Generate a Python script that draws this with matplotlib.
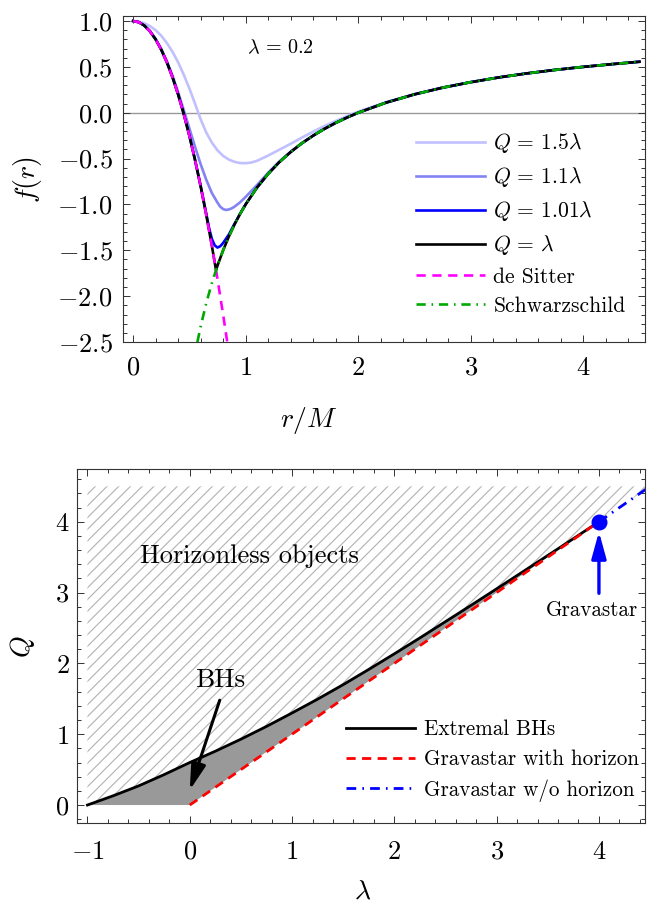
import numpy as np
import matplotlib
matplotlib.use("Agg")
from matplotlib import pyplot as plt
from matplotlib.ticker import MultipleLocator
from matplotlib.patches import Polygon

plt.rcParams['font.family'] = 'serif'
plt.rcParams['font.serif'] = ['cmr10', 'DejaVu Serif']
plt.rcParams['mathtext.fontset'] = 'cm'
plt.rcParams['axes.formatter.use_mathtext'] = True

# ---- top panel data: f(r) for lambda = 0.2 ----
r_ds = [0, 0.05, 0.1, 0.15, 0.2, 0.25, 0.3, 0.35, 0.4, 0.45, 0.5, 0.55, 0.6,
        0.65, 0.7, 0.7368, 0.75, 0.8, 0.8367]
f_ds = [1.0, 0.9875, 0.95, 0.8875, 0.8, 0.6875, 0.55, 0.3875, 0.2, -0.0125,
        -0.25, -0.5125, -0.8, -1.1125, -1.45, -1.714, -1.8125, -2.2, -2.5]

r_sch = [0.5714, 0.6, 0.65, 0.7, 0.75, 0.8, 0.85, 0.9, 0.95, 1.0, 1.1, 1.2,
         1.3, 1.4, 1.5, 1.6, 1.7, 1.8, 1.9, 2.0, 2.25, 2.5, 2.75, 3.0, 3.25,
         3.5, 3.75, 4.0, 4.25, 4.5]
f_sch = [-2.5, -2.333, -2.077, -1.857, -1.667, -1.5, -1.353, -1.222, -1.105,
         -1.0, -0.818, -0.667, -0.538, -0.429, -0.333, -0.25, -0.176, -0.111,
         -0.053, 0.0, 0.111, 0.2, 0.273, 0.333, 0.385, 0.429, 0.467, 0.5,
         0.529, 0.556]

r_q100 = r_ds[:15] + [0.7368] + r_sch[4:]
f_q100 = f_ds[:15] + [-1.714] + f_sch[4:]

r_q101 = [0, 0.05, 0.1, 0.15, 0.2, 0.25, 0.3, 0.35, 0.4, 0.45, 0.5, 0.55, 0.6,
          0.65, 0.675, 0.7, 0.725, 0.75, 0.775, 0.8, 0.85, 0.9, 0.95, 1.0] + r_sch[10:]
f_q101 = [1.0, 0.9875, 0.95, 0.8875, 0.8, 0.6875, 0.55, 0.3875, 0.2, -0.0125,
          -0.25, -0.5125, -0.795, -1.1, -1.255, -1.375, -1.445, -1.47, -1.455,
          -1.42, -1.33, -1.214, -1.103, -0.999] + f_sch[10:]

r_q110 = [0, 0.05, 0.1, 0.15, 0.2, 0.25, 0.3, 0.35, 0.4, 0.45, 0.5, 0.55, 0.6,
          0.65, 0.7, 0.75, 0.775, 0.8, 0.825, 0.85, 0.875, 0.9, 0.95, 1.0,
          1.1, 1.2, 1.3, 1.4, 1.5, 1.6, 1.7, 1.8, 1.9] + r_sch[19:]
f_q110 = [1.0, 0.988, 0.952, 0.891, 0.806, 0.697, 0.563, 0.405, 0.225, 0.03,
          -0.17, -0.37, -0.56, -0.73, -0.875, -0.98, -1.025, -1.05, -1.06,
          -1.055, -1.043, -1.025, -0.978, -0.918, -0.79, -0.655, -0.532,
          -0.425, -0.331, -0.249, -0.175, -0.11, -0.052] + f_sch[19:]

r_q150 = [0, 0.05, 0.1, 0.15, 0.2, 0.25, 0.3, 0.35, 0.4, 0.45, 0.5, 0.55, 0.6,
          0.65, 0.7, 0.75, 0.8, 0.85, 0.9, 0.95, 1.0, 1.05, 1.1, 1.2, 1.3,
          1.4, 1.5, 1.6, 1.7, 1.8, 1.9, 2.0, 2.25, 2.5, 2.75, 3.0] + r_sch[24:]
f_q150 = [1.0, 0.994, 0.975, 0.945, 0.9, 0.84, 0.76, 0.665, 0.55, 0.415, 0.265,
          0.10, -0.07, -0.215, -0.325, -0.41, -0.47, -0.51, -0.535, -0.548,
          -0.55, -0.543, -0.525, -0.467, -0.403, -0.339, -0.271, -0.207,
          -0.146, -0.09, -0.038, 0.011, 0.116, 0.203, 0.275, 0.334] + f_sch[24:]

top_labels = [r'$Q\,=\,1.5\lambda$', r'$Q\,=\,1.1\lambda$', r'$Q\,=\,1.01\lambda$',
              r'$Q\,=\,\lambda$', 'de Sitter', 'Schwarzschild']

# ---- bottom panel data: (lambda, Q) plane ----
lam_ext = [-1.0, -0.75, -0.5, -0.25, 0.0, 0.25, 0.5, 0.75, 1.0, 1.25, 1.5,
           1.75, 2.0, 2.25, 2.5, 2.75, 3.0, 3.25, 3.5, 3.75, 4.0]
q_ext = [0.0, 0.13, 0.27, 0.43, 0.6, 0.76, 0.93, 1.11, 1.3, 1.495, 1.7,
         1.915, 2.135, 2.36, 2.59, 2.82, 3.053, 3.288, 3.524, 3.761, 4.0]
lam_bh_low = [-1.0, 0.0, 4.0]
q_bh_low = [0.0, 0.0, 4.0]
lam_grav_h = [0.0, 4.0]
q_grav_h = [0.0, 4.0]
lam_grav_noh = [4.0, 4.6]
q_grav_noh = [4.0, 4.6]
q_top = 4.5
gravastar = (4.0, 4.0)
bot_labels = ['Extremal BHs', 'Gravastar with horizon', 'Gravastar w/o horizon']

LIGHT = '#c0c0ff'
MED = '#8383f5'
DARK = '#0000ff'
MAG = '#ff00ff'
GRN = '#00a800'
lw = 1.9

fig = plt.figure(figsize=(6.49, 9.08), dpi=100)


def style_axes(ax):
    for s in ax.spines.values():
        s.set_linewidth(0.8)
        s.set_color('#333333')
    ax.tick_params(which='both', direction='in', top=True, right=True,
                   color='#333333', width=0.7)
    ax.tick_params(which='major', length=5)
    ax.tick_params(which='minor', length=3)


# ================= top panel =================
ax1 = fig.add_axes([0.1895, 0.6233, 0.8043, 0.3591])
ax1.axhline(0, color='#999999', lw=1.0, zorder=1)
ax1.plot(r_q150, f_q150, color=LIGHT, lw=lw, label=top_labels[0])
ax1.plot(r_q110, f_q110, color=MED, lw=lw, label=top_labels[1])
ax1.plot(r_q101, f_q101, color=DARK, lw=lw, label=top_labels[2])
ax1.plot(r_q100, f_q100, color='black', lw=lw, label=top_labels[3])
ax1.plot(r_ds, f_ds, color=MAG, lw=lw, dashes=(3.5, 2.5), label=top_labels[4])
ax1.plot(r_sch, f_sch, color=GRN, lw=lw, dashes=(3.5, 2.2, 0.6, 2.2),
         label=top_labels[5])
ax1.set_xlim(-0.09, 4.55)
ax1.set_ylim(-2.5, 1.055)
ax1.xaxis.set_major_locator(MultipleLocator(1))
ax1.xaxis.set_minor_locator(MultipleLocator(0.2))
ax1.yaxis.set_major_locator(MultipleLocator(0.5))
ax1.yaxis.set_minor_locator(MultipleLocator(0.1))
ax1.yaxis.set_major_formatter(lambda v, p: r'$%.1f$' % v if v >= 0 else r'$-%.1f$' % -v)
ax1.xaxis.set_major_formatter(lambda v, p: r'$%d$' % v)
style_axes(ax1)
ax1.tick_params(axis='x', labelsize=19, pad=10)
ax1.tick_params(axis='y', labelsize=19, pad=7.5)
ax1.text(1.31, 0.71, r'$\lambda\,=\,0.2$', fontsize=14.5, ha='center', va='center')
ax1.set_ylabel(r'$f(r)$', fontsize=20, va='center')
ax1.yaxis.set_label_coords(-0.182, 0.497)
ax1.set_xlabel(r'$r/M$', fontsize=20, va='center')
ax1.xaxis.set_label_coords(0.356, -0.24)
leg1 = ax1.legend(loc='upper left', bbox_to_anchor=(0.561, 0.646), frameon=False,
                  fontsize=15.5, handlelength=3.2, handletextpad=0.4,
                  labelspacing=0.46, borderpad=0, borderaxespad=0)

# ================= bottom panel =================
ax2 = fig.add_axes([0.119, 0.0939, 0.8748, 0.3892])
lam_bh = lam_ext + lam_bh_low[::-1]
q_bh = q_ext + q_bh_low[::-1]
ax2.fill(lam_bh, q_bh, color='#999999', lw=0, zorder=1)

hatch_poly = Polygon(list(zip(lam_ext + [lam_grav_noh[0] + 0.5, lam_ext[0]],
                              q_ext + [q_top, q_top])),
                     closed=True, facecolor='none', edgecolor='none',
                     transform=ax2.transData)
ax2.add_patch(hatch_poly)
W, H = 567.7, 353.4
step = 11.7 / W
for x0 in np.arange(-H / W, 1.0, step):
    ln, = ax2.plot([x0, x0 + H / W], [0, 1], transform=ax2.transAxes,
                   color='#b5b5b5', lw=0.85, zorder=0.5)
    ln.set_clip_path(hatch_poly)

ax2.plot(lam_ext, q_ext, color='black', lw=2.0, zorder=3, label=bot_labels[0])
ax2.plot(lam_grav_h, q_grav_h, color='#ff0000', lw=2.0, dashes=(3.3, 2.3),
         zorder=4, label=bot_labels[1])
ax2.plot(lam_grav_noh, q_grav_noh, color='#0000ff', lw=2.0,
         dashes=(3.5, 2.2, 0.6, 2.2), zorder=4, label=bot_labels[2])
ax2.plot([gravastar[0]], [gravastar[1]], 'o', color='#0000ff', ms=10.5, zorder=5)

ax2.annotate('', xy=(0.0, 0.21), xytext=(0.293, 1.48),
             arrowprops=dict(arrowstyle='-|>,head_length=0.8,head_width=0.22',
                             color='black', lw=2.2, mutation_scale=20,
                             shrinkA=0, shrinkB=0), zorder=6)
ax2.annotate('', xy=(4.0, 3.86), xytext=(4.0, 2.99),
             arrowprops=dict(arrowstyle='-|>,head_length=0.8,head_width=0.22',
                             color='#0000ff', lw=2.4, mutation_scale=20,
                             shrinkA=0, shrinkB=0), zorder=6)
ax2.text(0.293, 1.77, 'BHs', fontsize=19.5, ha='center', va='center')
ax2.text(0.58, 3.51, 'Horizonless objects', fontsize=19, ha='center', va='center')
ax2.text(3.93, 2.75, 'Gravastar', fontsize=15.2, ha='center', va='center')

ax2.set_xlim(-1.1, 4.45)
ax2.set_ylim(-0.25, 4.74)
ax2.xaxis.set_major_locator(MultipleLocator(1))
ax2.xaxis.set_minor_locator(MultipleLocator(0.2))
ax2.yaxis.set_major_locator(MultipleLocator(1))
ax2.yaxis.set_minor_locator(MultipleLocator(0.2))
ax2.xaxis.set_major_formatter(lambda v, p: r'$%d$' % v if v >= 0 else r'$-%d$' % -v)
ax2.yaxis.set_major_formatter(lambda v, p: r'$%d$' % v)
style_axes(ax2)
ax2.tick_params(axis='x', labelsize=19, pad=12.5)
ax2.tick_params(axis='y', labelsize=19, pad=5.5)
ax2.set_ylabel(r'$Q$', fontsize=20, va='center')
ax2.yaxis.set_label_coords(-0.097, 0.498)
ax2.set_xlabel(r'$\lambda$', fontsize=20, va='center')
ax2.xaxis.set_label_coords(0.503, -0.195)
leg2 = ax2.legend(loc='upper left', bbox_to_anchor=(0.473, 0.291), frameon=False,
                  fontsize=15.2, handlelength=3.27, handletextpad=0.45,
                  labelspacing=0.48, borderpad=0, borderaxespad=0)

fig.savefig('out.png', dpi=100)
